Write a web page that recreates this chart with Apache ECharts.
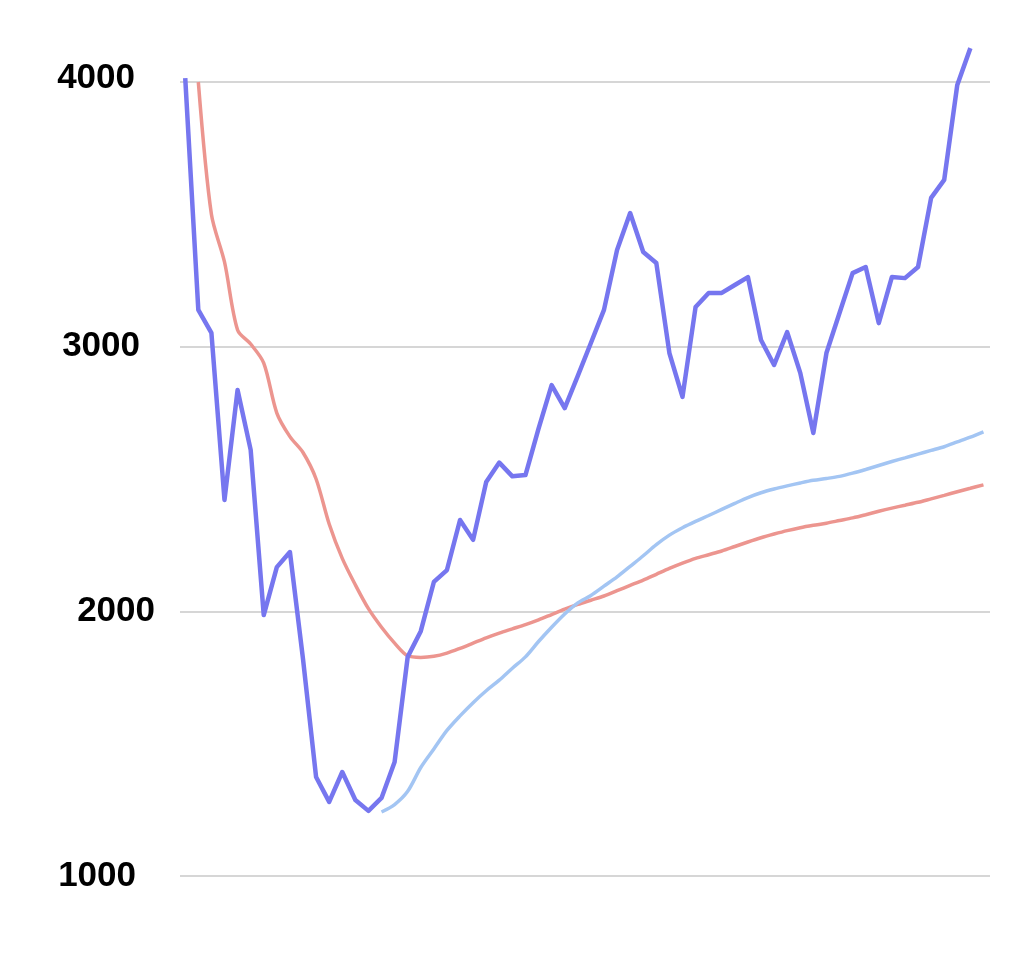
<!DOCTYPE html>
<html>
<head>
<meta charset="utf-8">
<script src="https://cdn.jsdelivr.net/npm/echarts@6/dist/echarts.min.js"></script>
<style>html,body{margin:0;padding:0;background:#fff}#c{width:1024px;height:961px}</style>
</head>
<body>
<div id="c"></div>
<script>
// y-axis tick labels
const yTicks = [1000, 2000, 3000, 4000];
// price (dark blue), index 0..60
const priceValues = [4015,3139,3052,2421,2836,2610,1986,2167,2224,1820,1374,1280,1393,1287,1246,1295,1431,1828,1925,2111,2156,2345,2270,2489,2562,2510,2515,2690,2855,2768,2890,3014,3139,3365,3505,3358,3316,2976,2810,3150,3203,3203,3233,3263,3025,2931,3055,2901,2674,2976,3127,3278,3301,3089,3263,3259,3301,3562,3630,3989,4128];
const priceStart = 0;
// red average, index 1..61
const redValues = [4000,3500,3320,3063,3010,2938,2749,2660,2600,2500,2330,2200,2100,2010,1940,1880,1832,1826,1830,1842,1860,1880,1900,1918,1934,1950,1968,1988,2008,2026,2042,2058,2078,2098,2118,2140,2162,2182,2200,2214,2228,2245,2262,2278,2292,2305,2316,2325,2333,2343,2353,2365,2378,2390,2401,2412,2425,2438,2452,2465,2478];
const redStart = 1;
// light blue average, index 15..61
const lightValues = [1242,1270,1320,1410,1480,1550,1605,1655,1700,1740,1785,1828,1886,1940,1990,2032,2060,2095,2130,2170,2210,2252,2288,2316,2340,2362,2385,2408,2430,2448,2462,2474,2485,2495,2502,2510,2522,2536,2551,2566,2580,2594,2608,2622,2640,2658,2678];
const lightStart = 15;

const toPairs = (arr, start) => arr.map((v, i) => [start + i, v]);
const labelPad = { 1000: 19, 2000: 0, 3000: 15, 4000: 20 };

const chart = echarts.init(document.getElementById('c'));
chart.setOption({
  animation: false,
  backgroundColor: '#ffffff',
  grid: { left: 180, right: 34, top: 82, bottom: 85, containLabel: false },
  xAxis: {
    type: 'value', min: -0.4, max: 61.5,
    show: false
  },
  yAxis: {
    type: 'value', min: yTicks[0], max: yTicks[yTicks.length - 1], interval: 1000,
    axisLine: { show: false }, axisTick: { show: false },
    axisLabel: {
      margin: 25,
      formatter: v => '{t' + v + '|' + v + '}',
      rich: Object.fromEntries(yTicks.map(t => ['t' + t, {
        color: '#000', fontSize: 35, fontWeight: 'bold',
        fontFamily: 'Liberation Sans, Arial, sans-serif',
        padding: [0, labelPad[t], t === 4000 ? 8 : 0, 0]
      }]))
    },
    splitLine: { lineStyle: { color: '#d6d6d6', width: 2 } }
  },
  series: [
    {
      type: 'line', data: toPairs(redValues, redStart), symbol: 'none', clip: false,
      smooth: 0.3, lineStyle: { color: '#ec958f', width: 3.5 }, z: 2
    },
    {
      type: 'line', data: toPairs(lightValues, lightStart), symbol: 'none', clip: false,
      smooth: 0.3, lineStyle: { color: '#a3c5f3', width: 3.5 }, z: 2
    },
    {
      type: 'line', data: toPairs(priceValues, priceStart), symbol: 'none', clip: false,
      lineStyle: { color: '#7676ef', width: 4.5, join: 'round' }, z: 3
    }
  ]
});
</script>
</body>
</html>
